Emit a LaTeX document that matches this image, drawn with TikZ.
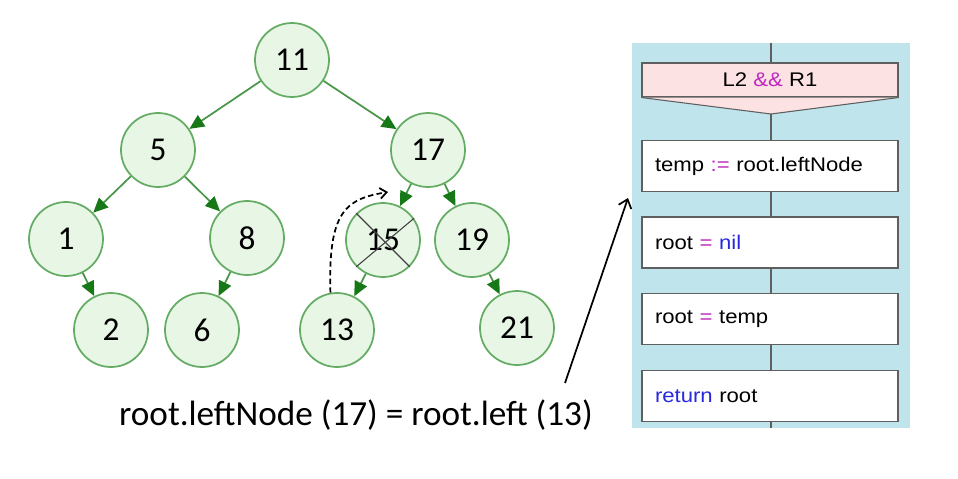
\documentclass[tikz,border=0pt]{standalone}
\usepackage{fontspec}
\setmainfont{Carlito}
\newfontfamily\flowfont[FakeStretch=1.12]{Liberation Sans}
\usetikzlibrary{arrows.meta}

\definecolor{treefill}{RGB}{232,246,229}
\definecolor{treeline}{RGB}{100,172,100}
\definecolor{treeedge}{RGB}{72,150,72}
\definecolor{treehead}{RGB}{22,120,22}
\definecolor{panelbg}{RGB}{191,228,236}
\definecolor{headfill}{RGB}{253,226,228}
\definecolor{boxline}{RGB}{95,95,95}
\definecolor{opmag}{RGB}{190,40,190}
\definecolor{kwblue}{RGB}{40,40,220}

\begin{document}
\begin{tikzpicture}[x=0.75pt, y=-0.75pt,
        vertex/.style={circle, draw=treeline, fill=treefill, line width=1.3pt, minimum size=55.5pt, inner sep=0pt, font=\fontsize{25}{25}\selectfont},
        link/.style={draw=treeedge, line width=1.3pt, -{Triangle[length=11pt, width=10pt, color=treehead]}},
        stepbox/.style={rectangle, draw=boxline, fill=white, line width=0.8pt, text width=172.5pt, inner xsep=9.75pt, minimum height=38.25pt, align=left, font={\flowfont\fontsize{14.8}{17}\selectfont}},
        header/.style={rectangle, draw=boxline, fill=headfill, line width=0.8pt, minimum width=192pt, minimum height=25.5pt, inner sep=0pt, font={\flowfont\fontsize{14.8}{17}\selectfont}}]
        \useasboundingbox (0,0) rectangle (958,479);

        % tree
        \node[vertex] (11) at (292, 60) {11};
        \node[vertex] (5) at (158, 150) {5};
        \node[vertex] (17) at (428, 150) {17};
        \node[vertex] (1) at (66, 239) {1};
        \node[vertex] (8) at (247, 238) {8};
        \node[vertex] (15) at (383, 240) {15};
        \node[vertex] (19) at (472, 240) {19};
        \node[vertex] (2) at (111, 330) {2};
        \node[vertex] (6) at (202, 330) {6};
        \node[vertex] (13) at (337, 330) {13};
        \node[vertex] (21) at (517, 328) {21};

        \draw[link] (11) -- (5);
        \draw[link] (11) -- (17);
        \draw[link] (5) -- (1);
        \draw[link] (5) -- (8);
        \draw[link] (17) -- (15);
        \draw[link] (17) -- (19);
        \draw[link] (1) -- (2);
        \draw[link] (8) -- (6);
        \draw[link] (15) -- (13);
        \draw[link] (19) -- (21);

        % removed node and new link
        \draw[black!75, line width=0.8pt] (15.north west) -- (15.south east);
        \draw[black!75, line width=0.8pt] (15.35) -- (15.south west);
        \coordinate (dashtip) at (388, 192);
        \draw[line width=1.3pt, dash pattern=on 4pt off 2.5pt, -{Straight Barb[length=5pt, width=8pt]}] (13.100) .. controls (328, 212) and (345, 199) .. (dashtip);

        \node[anchor=base, font=\fontsize{26.4}{30}\selectfont] (formula) at (356, 425) {root.leftNode (17) = root.left (13)};

        % flow chart
        \fill[panelbg] (632, 43) rectangle (910, 428);
        \draw[boxline, line width=0.8pt] (771, 43) -- (771, 428);
        \node[header] (cond) at (770, 80) {L2 \textcolor{opmag}{\&\&} R1};
        \coordinate (condtip) at (771, 114);
        \fill[headfill] (cond.south west) -- (condtip) -- (cond.south east) -- cycle;
        \draw[boxline, line width=0.8pt] (cond.south west) -- (condtip) -- (cond.south east);
        \node[stepbox] (step1) at (770, 166) {temp \textcolor{opmag}{:=} root.leftNode};
        \node[stepbox] (step2) at (770, 242.5) {root \textcolor{opmag}{=} \textcolor{kwblue}{nil}};
        \node[stepbox] (step3) at (770, 319) {root \textcolor{opmag}{=} temp};
        \node[stepbox] (step4) at (770, 396) {\textcolor{kwblue}{return} root};

        \coordinate (ptail) at (565, 383);
        \coordinate (phead) at (628, 198);
        \draw[line width=1.3pt, -{Straight Barb[length=6pt, width=10pt]}] (ptail) -- (phead);
\end{tikzpicture}
\end{document}
